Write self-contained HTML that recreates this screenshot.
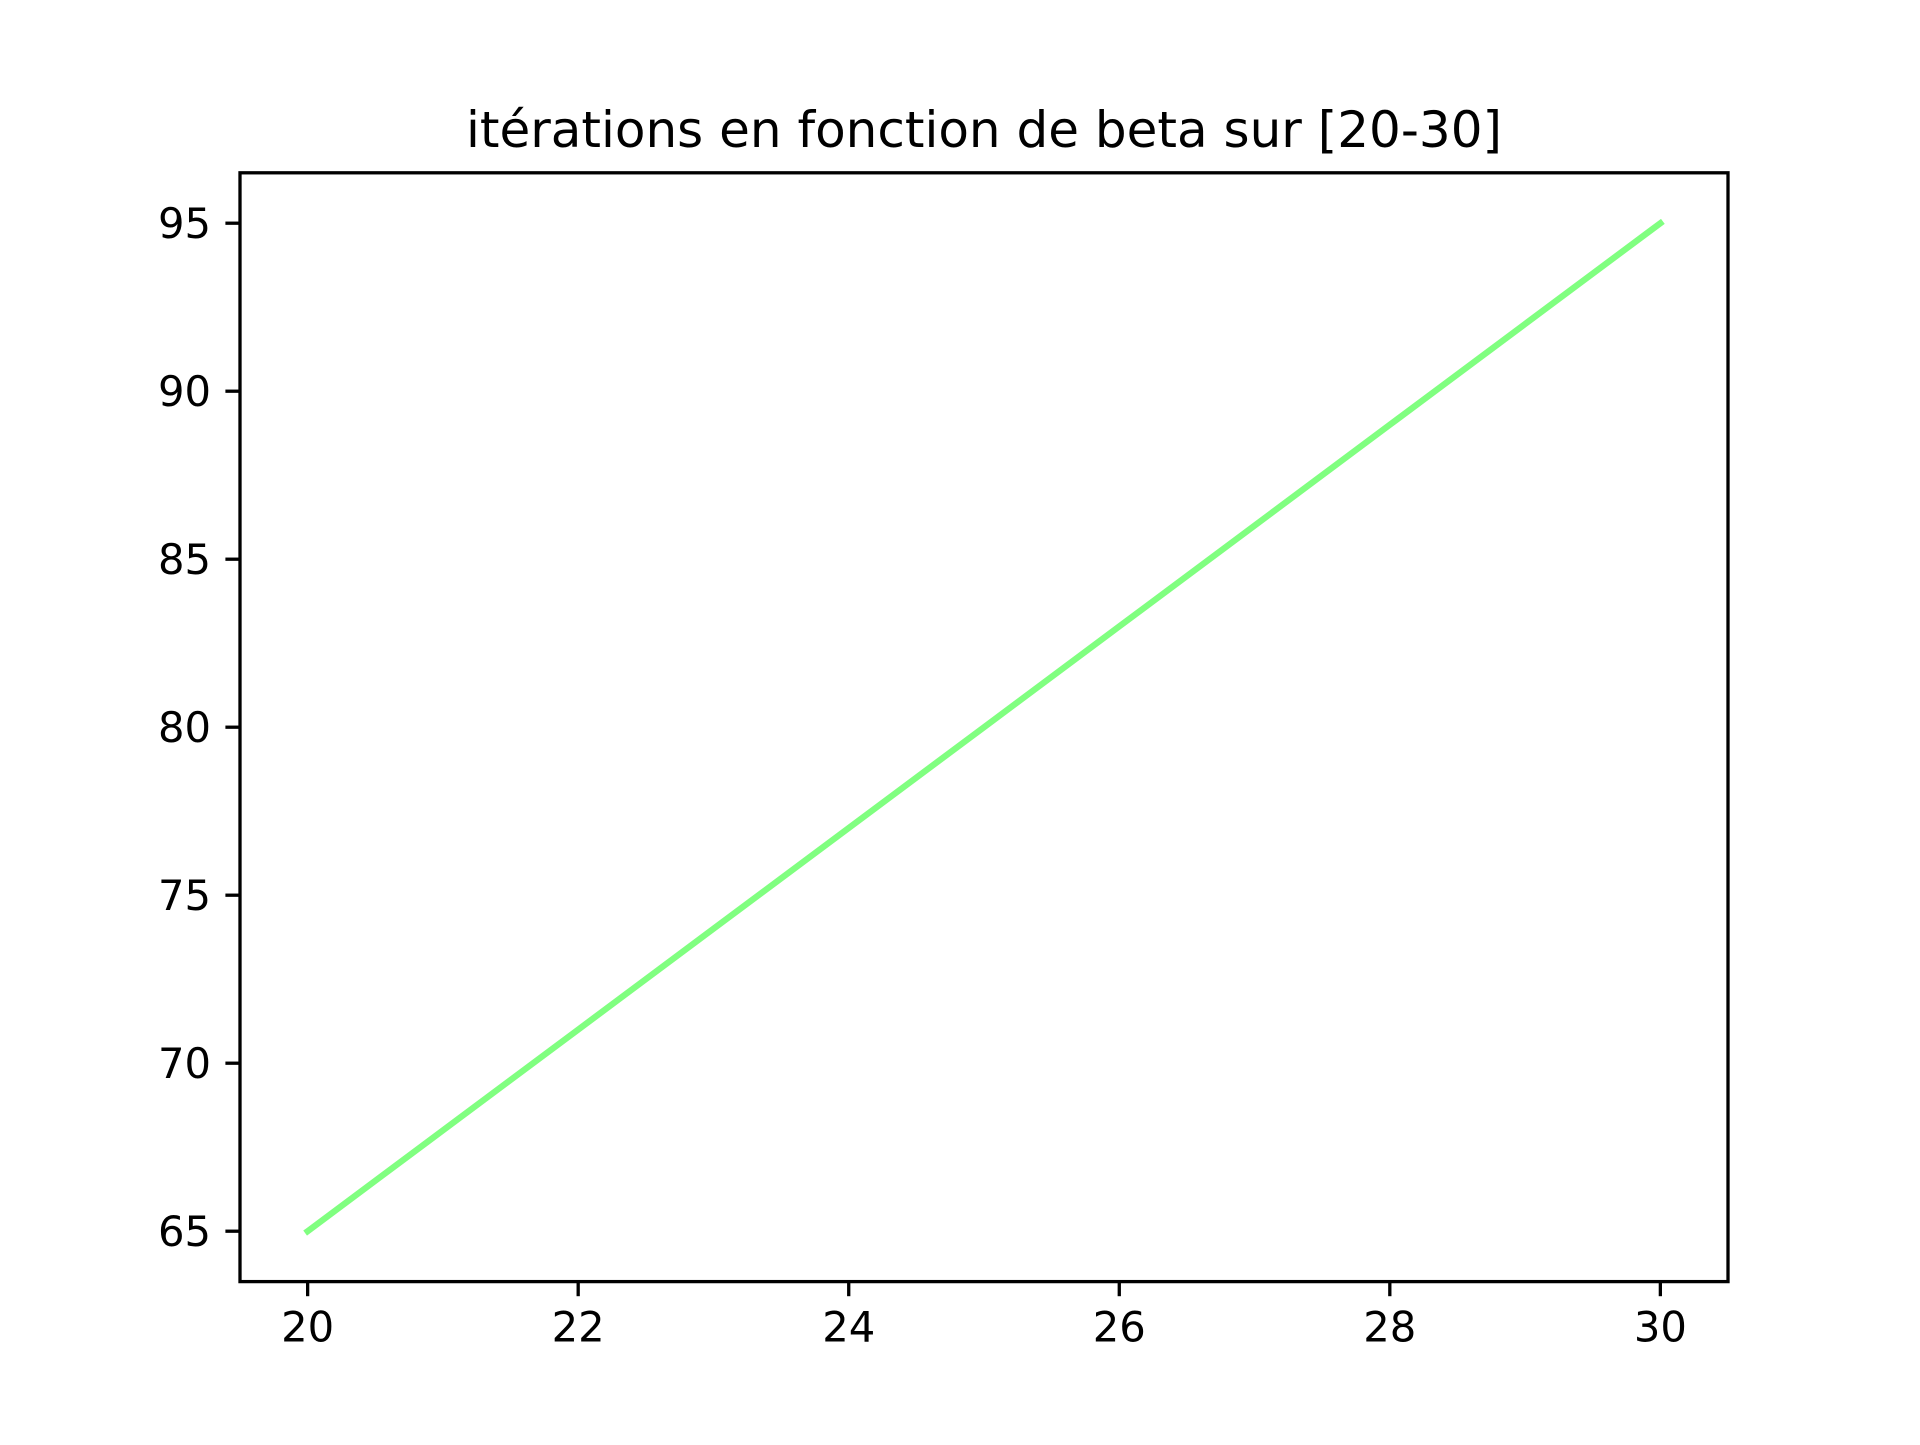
<!DOCTYPE html>
<html><head><meta charset="utf-8"><style>
html,body{margin:0;padding:0;background:#fff;}
svg text{font-family:"DejaVu Sans","Liberation Sans",sans-serif;fill:#000;}
</style></head><body>
<svg id="chart" width="1920" height="1440" viewBox="0 0 1920 1440">
<rect width="1920" height="1440" fill="#fff"/>
<text x="984" y="147" font-size="50" text-anchor="middle">itérations en fonction de beta sur [20-30]</text>
<g id="plot"></g>
</svg>
<script>
const betaValues = [20,21,22,23,24,25,26,27,28,29,30];
const iterationValues = [65,68,71,74,77,80,83,86,89,92,95];
const xTicks = [20,22,24,26,28,30];
const yTicks = [65,70,75,80,85,90,95];

const L=240,R=1728,T=172.8,B=1281.6;
const xMin=19.5,xMax=30.5,yMin=63.5,yMax=96.5;
const sx=v=>L+(v-xMin)/(xMax-xMin)*(R-L);
const sy=v=>B-(v-yMin)/(yMax-yMin)*(B-T);
const NS='http://www.w3.org/2000/svg';
const g=document.getElementById('plot');
function mk(tag,attrs){const e=document.createElementNS(NS,tag);for(const k in attrs)e.setAttribute(k,attrs[k]);g.appendChild(e);return e;}

const pts=betaValues.map((b,i)=>sx(b)+','+sy(iterationValues[i])).join(' ');
const line=mk('polyline',{points:pts,fill:'none',stroke:'#80ff80','stroke-width':6.25,'stroke-linecap':'square'});



xTicks.forEach(t=>{
  const tk=mk('line',{x1:sx(t),x2:sx(t),y1:B,y2:B+14.6,stroke:'#000','stroke-width':3.3});
  
  
  const lb=mk('text',{x:sx(t),y:B+60,'font-size':41.7,'text-anchor':'middle'});
  lb.textContent=t;
  
  
});
yTicks.forEach(t=>{
  const tk=mk('line',{x1:L-14.6,x2:L,y1:sy(t),y2:sy(t),stroke:'#000','stroke-width':3.3});
  
  
  const lb=mk('text',{x:L-29,y:sy(t)+15,'font-size':41.7,'text-anchor':'end'});
  lb.textContent=t;
  
  
});
const frame=mk('rect',{x:L,y:T,width:R-L,height:B-T,fill:'none',stroke:'#000','stroke-width':3.3});


</script>
</body></html>
